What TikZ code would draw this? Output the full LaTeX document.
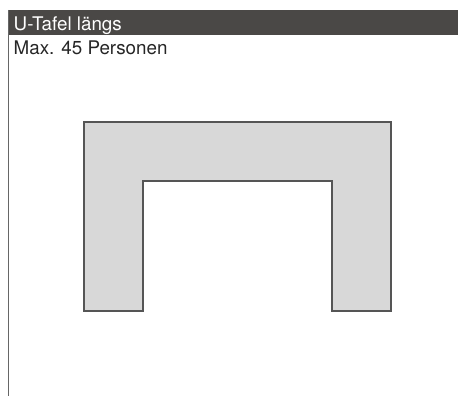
\documentclass[tikz,border=0pt]{standalone}
\usepackage{fontspec}
\setmainfont{TeX Gyre Heros}
\definecolor{barcol}{HTML}{4A4846}
\definecolor{tablefill}{HTML}{D8D8D8}
\definecolor{tableline}{HTML}{555555}
\definecolor{framecol}{HTML}{666666}
\begin{document}
\begin{tikzpicture}[x=1pt,y=-1pt,
  lbl/.style={anchor=base west,inner sep=0pt,font=\fontsize{18.8}{22}\selectfont},
  tablestyle/.style={fill=tablefill,draw=tableline,line width=1.5pt,line join=miter}]
\useasboundingbox (0,0) rectangle (458,396);
\fill[barcol] (8,10) rectangle (458,35.5);
\draw[framecol,line width=1.5pt] (8.3,10) coordinate (ftop) -- (8.3,396) coordinate (fbot);
\node[lbl,text=white] (title) at (13.5,31) {U-Tafel längs};
\node[lbl,text=black!85] (sub) at (13.5,55) {Max. 45 Personen};
\draw[tablestyle] (84,122) -- (391,122) -- (391,311) -- (332,311) -- (332,181) -- (143,181) -- (143,311) -- (84,311) -- cycle;
\end{tikzpicture}
\end{document}
